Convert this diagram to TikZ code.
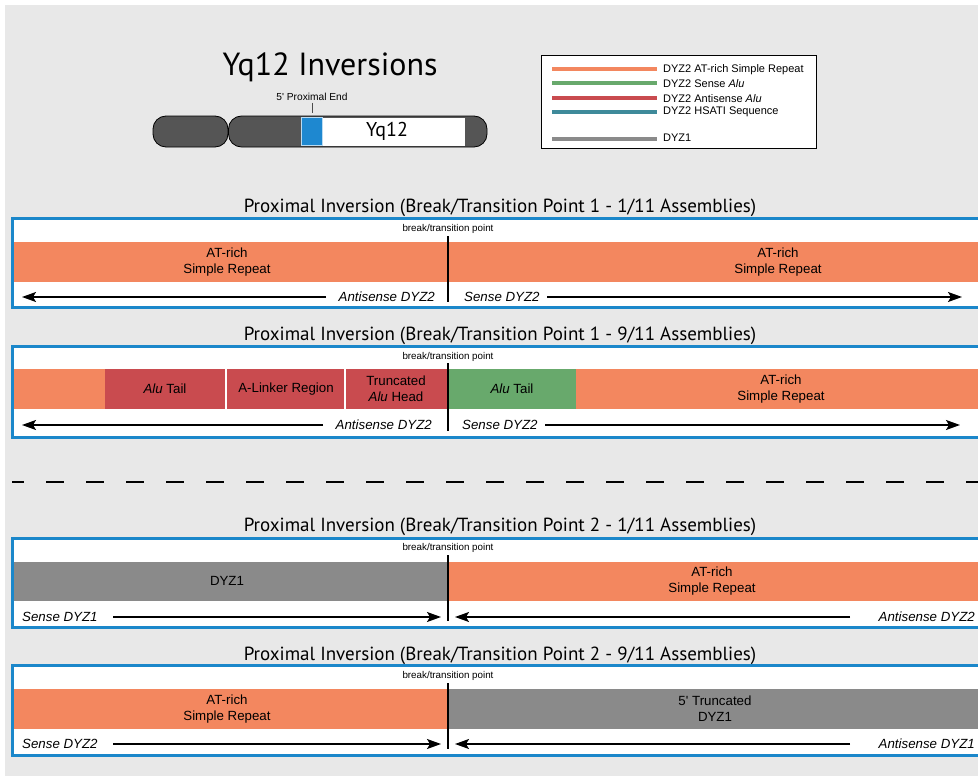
\documentclass[tikz,border=0pt]{standalone}
\usepackage{fontspec}
\usetikzlibrary{arrows.meta}
\setmainfont{Liberation Sans}
\newfontfamily\lab{Liberation Sans}
\newfontfamily\hum{PT Sans}
\definecolor{bggray}{HTML}{E8E8E8}
\definecolor{boxblue}{HTML}{1B87CA}
\definecolor{atorange}{HTML}{F3875F}
\definecolor{alured}{HTML}{C94B4F}
\definecolor{alugreen}{HTML}{68A96C}
\definecolor{hsteal}{HTML}{3E8A9A}
\definecolor{dyzgray}{HTML}{8A8A8A}
\definecolor{chromdark}{HTML}{555555}
\definecolor{chromblue}{HTML}{1E88D0}
\tikzset{
  panelbox/.style={draw=boxblue,line width=3pt,fill=white},
  ptitle/.style={font=\hum\fontsize{19}{21}\selectfont,inner sep=0pt},
  bptext/.style={font=\lab\fontsize{9.8}{11}\selectfont,inner sep=0pt},
  bandtext/.style={font=\lab\fontsize{13.3}{16}\selectfont,align=center,inner sep=0pt},
  dirlab/.style={font=\lab\itshape\fontsize{13.3}{15}\selectfont,inner sep=0pt},
  breakline/.style={line width=1.5pt,black},
  dirarrow/.style={line width=1.4pt,-{Stealth[length=14pt,width=10pt,inset=3pt]}},
  legline/.style={line width=4pt},
  legtext/.style={font=\lab\fontsize{11}{13}\selectfont,anchor=west,inner sep=0pt},
}
\begin{document}
\begin{tikzpicture}[x=1pt,y=-1pt]
\useasboundingbox (0,0) rectangle (978,776);
\clip (0,0) rectangle (978,776);
\fill[white] (0,0) rectangle (978,776);
\fill[bggray] (5,5) rectangle (978,776);

% ---------- heading and chromosome ----------
\node[font=\hum\fontsize{32}{35}\selectfont,inner sep=0pt] (maintitle) at (330,67) {Yq12 Inversions};
\draw[fill=chromdark,line width=0.8pt,rounded corners=13pt] (153,116) rectangle (228,147);
\draw[fill=chromdark,line width=0.8pt,rounded corners=13pt] (228.5,116) rectangle (487,147);
\fill[white] (322,117.5) rectangle (465,145.5);
\draw[fill=chromblue,draw=white!70!chromblue,line width=0.6pt] (301,117.5) rectangle (322,145.5);
\node[font=\hum\fontsize{20}{22}\selectfont,inner sep=0pt] (yq) at (387,131) {Yq12};
\node[font=\lab\fontsize{10.2}{11}\selectfont,inner sep=0pt] (proxend) at (312,97) {5' Proximal End};
\coordinate (proxtop) at (312,103);
\coordinate (proxtick) at (312,113);
\draw[line width=0.7pt,black!70] (proxtop) -- (proxtick);

% ---------- legend ----------
\draw[fill=white,line width=1pt] (541,56) rectangle (816,148);
\draw[legline,atorange] (552,69) -- (657,69);
\draw[legline,alugreen] (552,83) -- (657,83);
\draw[legline,alured] (552,98) -- (657,98);
\draw[legline,hsteal] (552,112) -- (657,112);
\draw[legline,dyzgray] (552,139) -- (657,139);
\node[legtext] (lg1) at (663,70) {DYZ2 AT-rich Simple Repeat};
\node[legtext] (lg2) at (663,84) {DYZ2 Sense \textit{Alu}};
\node[legtext] (lg3) at (663,98.5) {DYZ2 Antisense \textit{Alu}};
\node[legtext] (lg4) at (663,112) {DYZ2 HSATI Sequence};
\node[legtext] (lg5) at (663,138) {DYZ1};

% ---------- panel 1 ----------
\node[ptitle] (t1) at (500,207.5) {Proximal Inversion (Break/Transition Point 1 - 1/11 Assemblies)};
\draw[panelbox] (12,218) rectangle (995,307);
\fill[atorange] (13.5,242) rectangle (995,282);
\node[bptext] (bp1) at (448,229) {break/transition point};
\coordinate (b1top) at (448,236);
\coordinate (b1bot) at (448,302);
\draw[breakline] (b1top) -- (b1bot);
\node[bandtext] (p1l) at (227,262) {AT-rich\\Simple Repeat};
\node[bandtext] (p1r) at (778,262) {AT-rich\\Simple Repeat};
\node[dirlab,anchor=east] (p1as) at (435,297) {Antisense DYZ2};
\node[dirlab,anchor=west] (p1s) at (464,297) {Sense DYZ2};
\coordinate (p1a0) at (326,297);
\coordinate (p1a1) at (22,297);
\coordinate (p1b0) at (547,297);
\coordinate (p1b1) at (962,297);
\draw[dirarrow] (p1a0) -- (p1a1);
\draw[dirarrow] (p1b0) -- (p1b1);

% ---------- panel 2 ----------
\node[ptitle] (t2) at (500,335.5) {Proximal Inversion (Break/Transition Point 1 - 9/11 Assemblies)};
\draw[panelbox] (12,346) rectangle (995,437);
\fill[atorange] (13.5,369) rectangle (105,409);
\fill[alured] (105,369) rectangle (225,409);
\fill[alured] (227,369) rectangle (344,409);
\fill[alured] (346,369) rectangle (447,409);
\fill[alugreen] (449,369) rectangle (576,409);
\fill[atorange] (576,369) rectangle (995,409);
\node[bptext] (bp2) at (448,357) {break/transition point};
\coordinate (b2top) at (448,363);
\coordinate (b2bot) at (448,431);
\draw[breakline] (b2top) -- (b2bot);
\node[bandtext] (p2a) at (165,389) {\textit{Alu} Tail};
\node[bandtext] (p2b) at (286,389) {A-Linker Region};
\node[bandtext] (p2c) at (396,389) {Truncated\\\textit{Alu} Head};
\node[bandtext] (p2d) at (512,389) {\textit{Alu} Tail};
\node[bandtext] (p2e) at (781,389) {AT-rich\\Simple Repeat};
\node[dirlab,anchor=east] (p2as) at (432,425) {Antisense DYZ2};
\node[dirlab,anchor=west] (p2s) at (462,425) {Sense DYZ2};
\coordinate (p2a0) at (323,425);
\coordinate (p2a1) at (22,425);
\coordinate (p2b0) at (545,425);
\coordinate (p2b1) at (960,425);
\draw[dirarrow] (p2a0) -- (p2a1);
\draw[dirarrow] (p2b0) -- (p2b1);

% ---------- separator ----------
\coordinate (sepL) at (12,482);
\coordinate (sepR) at (978,482);
\draw[line width=2pt,dash pattern=on 18pt off 22pt,dash phase=6pt] (sepL) -- (sepR);

% ---------- panel 3 ----------
\node[ptitle] (t3) at (500,526.5) {Proximal Inversion (Break/Transition Point 2 - 1/11 Assemblies)};
\draw[panelbox] (12,538) rectangle (995,627);
\fill[dyzgray] (13.5,562) rectangle (448,601);
\fill[atorange] (448,562) rectangle (995,601);
\node[bptext] (bp3) at (448,548) {break/transition point};
\coordinate (b3top) at (448,555);
\coordinate (b3bot) at (448,621);
\draw[breakline] (b3top) -- (b3bot);
\node[bandtext] (p3l) at (227,581) {DYZ1};
\node[bandtext] (p3r) at (712,581) {AT-rich\\Simple Repeat};
\node[dirlab,anchor=west] (p3s) at (22,617) {Sense DYZ1};
\node[dirlab,anchor=east] (p3as) at (975,617) {Antisense DYZ2};
\coordinate (p3a0) at (113,617);
\coordinate (p3a1) at (441,617);
\coordinate (p3b0) at (850,617);
\coordinate (p3b1) at (455,617);
\draw[dirarrow] (p3a0) -- (p3a1);
\draw[dirarrow] (p3b0) -- (p3b1);

% ---------- panel 4 ----------
\node[ptitle] (t4) at (500,655.5) {Proximal Inversion (Break/Transition Point 2 - 9/11 Assemblies)};
\draw[panelbox] (12,665) rectangle (995,755);
\fill[atorange] (13.5,689) rectangle (448,729);
\fill[dyzgray] (448,689) rectangle (995,729);
\node[bptext] (bp4) at (448,676) {break/transition point};
\coordinate (b4top) at (448,683);
\coordinate (b4bot) at (448,749);
\draw[breakline] (b4top) -- (b4bot);
\node[bandtext] (p4l) at (227,709) {AT-rich\\Simple Repeat};
\node[bandtext] (p4r) at (715,709) {5' Truncated\\DYZ1};
\node[dirlab,anchor=west] (p4s) at (22,744) {Sense DYZ2};
\node[dirlab,anchor=east] (p4as) at (975,744) {Antisense DYZ1};
\coordinate (p4a0) at (113,744);
\coordinate (p4a1) at (441,744);
\coordinate (p4b0) at (850,744);
\coordinate (p4b1) at (455,744);
\draw[dirarrow] (p4a0) -- (p4a1);
\draw[dirarrow] (p4b0) -- (p4b1);
\end{tikzpicture}
\end{document}
